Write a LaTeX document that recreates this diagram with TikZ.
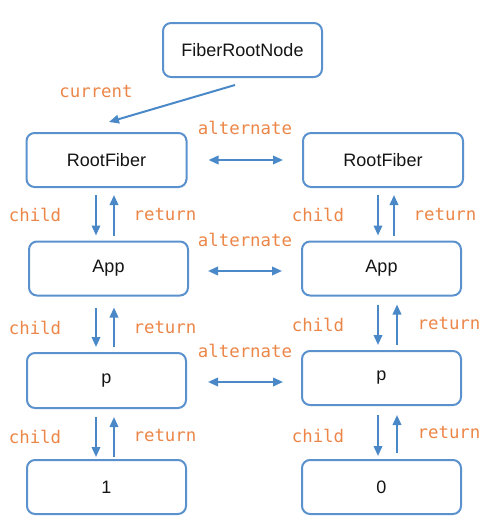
\documentclass[tikz,border=0pt]{standalone}
\usepackage{fontspec}
\usetikzlibrary{arrows.meta}
\newfontfamily\boxfont{Liberation Sans}
\newfontfamily\lblfont{DejaVu Sans Mono}
\definecolor{boxblue}{RGB}{91,146,206}
\definecolor{arrowblue}{RGB}{74,136,200}
\definecolor{lblorange}{RGB}{236,134,72}
\definecolor{ink}{RGB}{20,20,20}
\tikzset{
  fiber/.style={draw=boxblue, line width=2pt, rounded corners=8pt,
    minimum width=159pt, minimum height=54pt, inner sep=0pt,
    font=\boxfont\fontsize{18}{21}\selectfont, text=ink},
  link/.style={draw=arrowblue, line width=2pt,
    -{Triangle[length=10pt,width=8.5pt]}},
  twoway/.style={draw=arrowblue, line width=2pt,
    {Triangle[length=10pt,width=8.5pt]}-{Triangle[length=10pt,width=8.5pt]}},
  lbl/.style={font=\lblfont\fontsize{17.4}{20}\selectfont, text=lblorange, inner sep=0pt}
}
\begin{document}
\begin{tikzpicture}[x=1pt, y=-1pt]
\useasboundingbox (0,0) rectangle (494,530);

% fiber nodes
\node[fiber] (frn) at (242.5,50) {FiberRootNode};
\node[fiber, minimum width=160pt] (rfL) at (106.5,160) {RootFiber};
\node[fiber, minimum width=160pt] (rfR) at (383,160) {RootFiber};
\node[fiber] (appL) at (108.5,268.5) {App};
\node[fiber] (appR) at (381.5,268.5) {App};
\node[fiber, minimum height=55pt] (pL) at (106.5,380.5) {p};
\node[fiber] (pR) at (381.5,378) {p};
\node[fiber] (oneL) at (106.5,487) {1};
\node[fiber] (zeroR) at (381.5,487) {0};

% columns for the child / return arrows
\coordinate (cL) at (96,0);
\coordinate (rL) at (114,0);
\coordinate (cR) at (378,0);
\coordinate (rR) at (394,0);
\coordinate (rR2) at (397,0);

% current pointer
\coordinate (curS) at (235,85);
\coordinate (curE) at (109,122);
\draw[link] (curS) -- (curE);
\node[lbl] (lcur) at (96,92) {current};

% alternate links
\draw[twoway, shorten <=21pt, shorten >=19pt] (rfL.east) -- (rfR.west);
\draw[twoway, shorten <=19pt, shorten >=19pt] ([yshift=-2.5pt]appL.east) -- ([yshift=-2.5pt]appR.west);
\draw[twoway, shorten <=21pt, shorten >=18pt] ([yshift=-1.5pt]pL.east) -- ([yshift=-1.5pt]pL.east -| pR.west);
\node[lbl] (alt1) at (245,128) {alternate};
\node[lbl] (alt2) at (245,240) {alternate};
\node[lbl] (alt3) at (245,351) {alternate};

% left column: child / return
\draw[link, shorten <=7pt, shorten >=5pt] (rfL.south -| cL) -- (appL.north -| cL);
\draw[link, shorten <=5pt, shorten >=7pt] (appL.north -| rL) -- (rfL.south -| rL);
\draw[link, shorten <=11pt, shorten >=5pt] (appL.south -| cL) -- (pL.north -| cL);
\draw[link, shorten <=5pt, shorten >=11pt] (pL.north -| rL) -- (appL.south -| rL);
\draw[link, shorten <=8pt, shorten >=2pt] (pL.south -| cL) -- (oneL.north -| cL);
\draw[link, shorten <=2pt, shorten >=8pt] (oneL.north -| rL) -- (pL.south -| rL);

\node[lbl] (ch1) at (35,215) {child};
\node[lbl] (ch2) at (35,328) {child};
\node[lbl] (ch3) at (35,437) {child};
\node[lbl] (re1) at (165,215) {return};
\node[lbl] (re2) at (165,328) {return};
\node[lbl] (re3) at (165,436) {return};

% right column: child / return
\draw[link, shorten <=7pt, shorten >=5pt] (rfR.south -| cR) -- (appR.north -| cR);
\draw[link, shorten <=5pt, shorten >=7pt] (appR.north -| rR) -- (rfR.south -| rR);
\draw[link, shorten <=8pt, shorten >=5pt] (appR.south -| cR) -- (pR.north -| cR);
\draw[link, shorten <=5pt, shorten >=8pt] (pR.north -| rR2) -- (appR.south -| rR2);
\draw[link, shorten <=9pt, shorten >=3pt] (pR.south -| cR) -- (zeroR.north -| cR);
\draw[link, shorten <=6pt, shorten >=9pt] (zeroR.north -| rR2) -- (pR.south -| rR2);

\node[lbl] (ch4) at (318,215) {child};
\node[lbl] (ch5) at (318,325) {child};
\node[lbl] (ch6) at (318,436) {child};
\node[lbl] (re4) at (445,215) {return};
\node[lbl] (re5) at (449,324) {return};
\node[lbl] (re6) at (449,433) {return};
\end{tikzpicture}
\end{document}
